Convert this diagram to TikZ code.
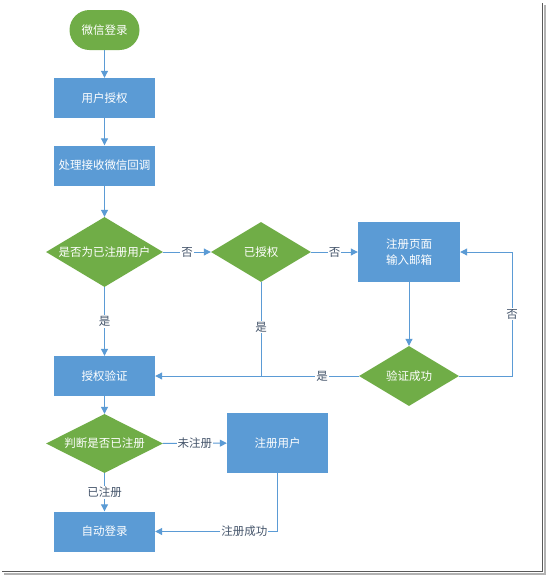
\documentclass[tikz,border=0pt]{standalone}
\usepackage{fontspec}
\setmainfont{Noto Sans CJK SC}
\usetikzlibrary{shapes.geometric,arrows.meta}
\definecolor{boxblue}{HTML}{5B9BD5}
\definecolor{leafgreen}{HTML}{70AD47}
\definecolor{labelgray}{HTML}{44546A}

\begin{document}
\begin{tikzpicture}[x=1pt, y=-1pt,
    every node/.style={font=\fontsize{11.5pt}{16pt}\selectfont},
    startbox/.style={rectangle, rounded corners=20pt, fill=leafgreen, text=white, minimum width=70pt, minimum height=40pt, inner sep=0pt},
    procbox/.style={rectangle, fill=boxblue, text=white, minimum width=101pt, minimum height=40pt, inner sep=0pt},
    choice/.style={diamond, aspect=1.7, fill=leafgreen, text=white, inner sep=0pt},
    flow/.style={draw=boxblue, line width=1pt, -{Triangle[length=7pt,width=7pt]}},
    plain/.style={draw=boxblue, line width=1pt},
    lbl/.style={fill=white, text=labelgray, inner sep=1pt}]
    \useasboundingbox (0,0) rectangle (546,576);
    \fill[white] (0,0) rectangle (546,576);
    \draw[black!30, line width=1.5pt] (4,573.8) -- (544.8,573.8) -- (544.8,5);
    \draw[black!65, line width=1.2pt] (2,571.6) -- (542.6,571.6) -- (542.6,3);

    \node[startbox] (login) at (104.5,30) {微信登录};
    \node[procbox] (auth) at (104.5,98) {用户授权};
    \node[procbox] (callback) at (104.5,165.5) {处理接收微信回调};
    \node[choice, minimum width=117pt, minimum height=70pt] (isreg) at (104.5,252) {是否为已注册用户};
    \node[choice, minimum width=100pt, minimum height=60pt] (granted) at (261,252) {已授权};
    \node[procbox, minimum width=102pt, minimum height=60pt, align=center] (regpage) at (409,252) {注册页面\\输入邮箱};
    \node[choice, minimum width=100pt, minimum height=60pt] (verified) at (409,376) {验证成功};
    \node[procbox] (authcheck) at (104.5,376) {授权验证};
    \node[choice, minimum width=117pt, minimum height=59pt] (checkreg) at (104.5,443.5) {判断是否已注册};
    \node[procbox, minimum height=60pt] (signup) at (277.5,443) {注册用户};
    \node[procbox] (autologin) at (104.5,531.5) {自动登录};
    \coordinate (loopR) at (512,252);

    \draw[flow] (login) -- (auth);
    \draw[flow] (auth) -- (callback);
    \draw[flow] (callback) -- (isreg);
    \draw[flow] (isreg) -- node[lbl] {否} (granted);
    \draw[flow] (granted) -- node[lbl] {否} (regpage);
    \draw[flow] (isreg) -- node[lbl] {是} (authcheck);
    \draw[flow] (regpage) -- (verified);
    \draw[flow] (verified) -- node[lbl, pos=0.18] {是} (authcheck);
    \draw[plain] (granted) -- node[lbl, pos=0.48] {是} (granted |- authcheck);
    \draw[flow] (verified.east) -| node[lbl, pos=0.75] {否} (loopR) -- (regpage.east);
    \draw[flow] (authcheck) -- (checkreg);
    \draw[flow] (checkreg) -- node[lbl] {未注册} (signup);
    \draw[flow] (checkreg) -- node[lbl] {已注册} (autologin);
    \draw[flow] (signup.south) |- node[lbl, pos=0.635] {注册成功} (autologin.east);
\end{tikzpicture}
\end{document}
